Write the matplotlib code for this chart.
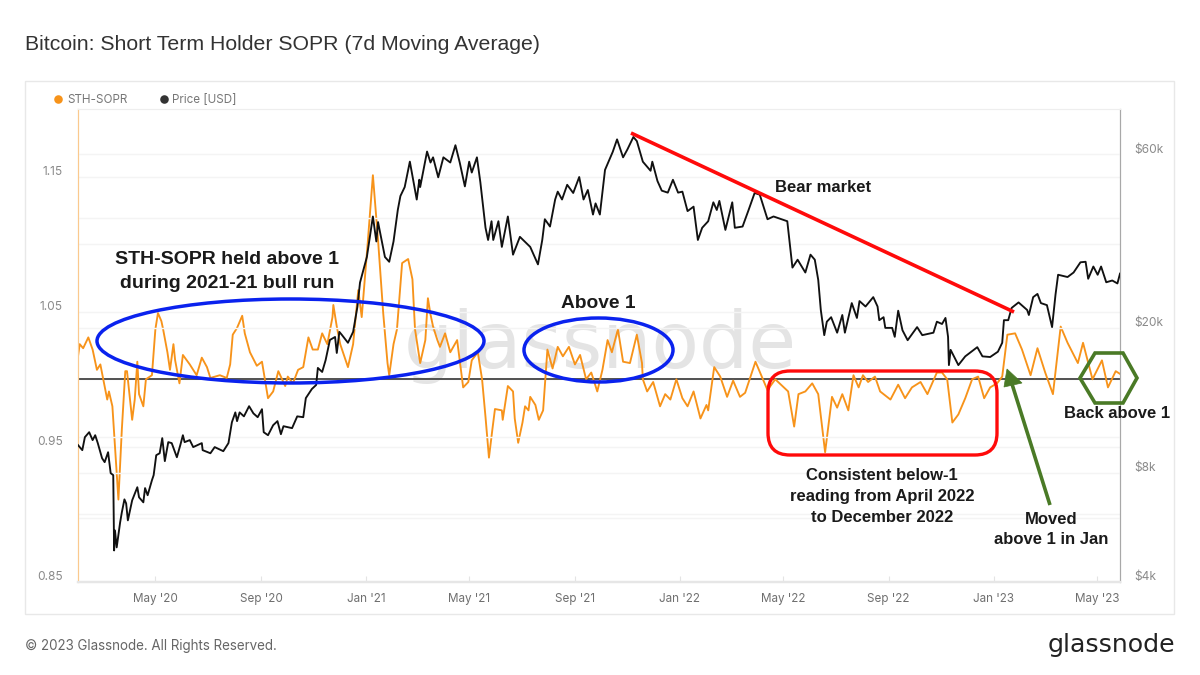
import matplotlib
matplotlib.use("Agg")
import matplotlib.pyplot as plt
import matplotlib.dates as mdates
from matplotlib.patches import Ellipse, FancyBboxPatch, Polygon, Rectangle
from matplotlib.transforms import ScaledTranslation
import pandas as pd

# values, days counted from 2020-02-01
START = "2020-02-01"

sopr_days = [0, 2, 6, 12, 17, 22, 26, 34, 36, 40, 44, 47, 51, 55, 57, 63, 66, 69, 71, 76, 79, 86, 90, 93, 97, 99,
             104, 107, 111, 113, 118, 122, 130, 138, 144, 150, 154, 165, 173, 177, 180, 185, 191, 194, 200, 208,
             214, 221, 227, 233, 241, 244, 250, 256, 262, 268, 273, 279, 284, 290, 296, 297, 301, 305, 314, 320,
             326, 330, 337, 343, 349, 355, 360, 362, 367, 371, 377, 384, 389, 392, 398, 404, 407, 410, 413, 418,
             421, 427, 433, 441, 444, 448, 454, 458, 465, 470, 474, 478, 482, 485, 493, 494, 500, 506, 508, 512,
             517, 520, 524, 526, 532, 536, 541, 546, 552, 558, 564, 571, 578, 584, 591, 597, 604, 610, 616, 621,
             628, 634, 642, 650, 656, 657, 662, 669, 677, 683, 689, 696, 703, 709, 716, 724, 731, 733, 740, 747,
             755, 762, 770, 776, 788, 802, 811, 826, 833, 838, 846, 854, 861, 869, 877, 883, 889, 896, 902, 908,
             913, 919, 927, 933, 945, 954, 962, 970, 980, 988, 999, 1005, 1011, 1017, 1024, 1032, 1040, 1047, 1054,
             1061, 1069, 1075, 1081, 1090, 1098, 1108, 1116, 1125, 1134, 1143, 1151, 1163, 1169, 1180, 1191, 1198,
             1207, 1212]
sopr_values = [1.017, 1.026, 1.023, 1.031, 1.022, 1.007, 1.011, 0.985, 0.991, 0.980, 0.940, 0.911, 0.963, 1.006,
               1.006, 0.970, 0.985, 1.013, 0.989, 0.980, 1.000, 1.003, 1.037, 1.049, 1.043, 1.037, 1.020, 1.007,
               1.026, 1.014, 0.997, 1.018, 1.011, 1.003, 1.016, 1.009, 1.001, 1.003, 1.001, 1.011, 1.033, 1.038,
               1.047, 1.034, 1.020, 1.010, 1.013, 0.986, 0.991, 1.006, 0.995, 1.002, 0.997, 1.007, 1.009, 1.031,
               1.022, 1.022, 1.034, 1.026, 1.046, 1.055, 1.039, 1.026, 1.009, 1.026, 1.066, 1.046, 1.101, 1.151,
               1.103, 1.049, 1.012, 1.003, 1.026, 1.037, 1.086, 1.089, 1.074, 1.037, 1.012, 1.029, 1.060, 1.048,
               1.039, 1.029, 1.024, 1.034, 1.020, 1.029, 1.014, 0.994, 0.998, 1.014, 1.020, 1.000, 0.972, 0.942,
               0.963, 0.978, 0.977, 0.970, 0.995, 0.991, 0.971, 0.953, 0.968, 0.980, 0.977, 0.987, 0.981, 0.970,
               0.977, 1.022, 1.008, 1.024, 1.017, 1.024, 1.011, 1.018, 1.000, 1.005, 0.991, 1.007, 1.029, 1.020,
               1.037, 1.013, 1.012, 1.033, 1.012, 1.000, 0.991, 0.998, 0.980, 0.989, 0.985, 1.000, 0.986, 0.980,
               0.991, 0.971, 0.981, 0.977, 1.009, 1.002, 0.987, 0.999, 0.987, 0.990, 1.013, 0.992, 1.000, 0.991,
               0.965, 0.989, 0.991, 0.997, 0.989, 0.946, 0.987, 0.979, 0.989, 0.977, 1.003, 0.994, 1.003, 0.998,
               1.002, 0.991, 0.985, 0.996, 0.986, 0.994, 0.998, 0.989, 1.005, 1.005, 1.000, 0.968, 0.974, 0.986,
               1.000, 1.002, 0.986, 0.994, 0.997, 1.002, 1.033, 1.034, 1.022, 1.003, 1.023, 1.005, 0.989, 1.039,
               1.027, 1.012, 1.027, 1.000, 1.014, 0.994, 1.006, 1.004]

price_days = [0, 5, 8, 13, 17, 20, 23, 28, 31, 35, 38, 41, 42, 43, 45, 49, 51, 54, 56, 58, 63, 69, 71, 76, 78, 81,
              86, 88, 91, 95, 98, 101, 105, 109, 115, 119, 122, 124, 130, 134, 144, 145, 154, 159, 169, 175, 179,
              183, 185, 188, 193, 199, 204, 209, 214, 216, 221, 227, 232, 236, 239, 249, 255, 262, 265, 272, 277,
              279, 284, 288, 293, 299, 301, 304, 307, 314, 320, 325, 328, 336, 343, 347, 349, 357, 362, 367, 372,
              375, 380, 386, 394, 397, 398, 406, 410, 413, 419, 425, 433, 439, 444, 450, 455, 458, 464, 468, 474,
              477, 481, 483, 489, 493, 500, 506, 514, 526, 535, 540, 543, 549, 555, 558, 563, 569, 576, 583, 588,
              593, 599, 602, 607, 613, 622, 627, 634, 639, 646, 650, 657, 666, 668, 674, 679, 686, 692, 698, 703,
              709, 716, 721, 726, 733, 739, 743, 746, 753, 761, 764, 773, 780, 787, 793, 802, 809, 825, 831, 837,
              846, 852, 857, 861, 864, 868, 871, 876, 883, 889, 892, 900, 906, 909, 916, 925, 930, 932, 937, 939,
              947, 950, 954, 959, 965, 976, 982, 995, 999, 1005, 1009, 1012, 1013, 1015, 1024, 1032, 1046, 1052,
              1061, 1070, 1075, 1077, 1082, 1086, 1094, 1104, 1106, 1111, 1116, 1120, 1127, 1133, 1137, 1140, 1151,
              1158, 1166, 1172, 1175, 1181, 1186, 1190, 1196, 1203, 1209, 1212]
price_values = [9520, 9220, 10010, 10330, 9825, 10135, 9640, 8760, 8545, 9100, 7970, 7870, 4885, 5545, 4980, 5835,
                6220, 6750, 6580, 5910, 6710, 7290, 6840, 6625, 7250, 6930, 7620, 7870, 8930, 9040, 9950, 8600,
                9700, 9640, 8815, 9520, 10135, 9700, 9825, 9400, 9640, 9220, 9040, 9400, 9160, 9640, 11000, 11710,
                11080, 11710, 11420, 12180, 11640, 11360, 11950, 10330, 10135, 10800, 11080, 10200, 10730, 10600,
                11420, 11360, 12820, 13580, 13930, 15520, 15130, 16300, 18530, 18880, 17060, 19500, 19120, 18200,
                19500, 22860, 26640, 31340, 40500, 34570, 39090, 31340, 30400, 34570, 42250, 46100, 48800, 57320,
                45080, 51120, 48800, 61100, 57000, 58900, 51900, 58900, 57000, 63600, 57000, 49000, 57300, 53500,
                58900, 50300, 37700, 34900, 39300, 34900, 39300, 33400, 40500, 31800, 35600, 33400, 29900, 34900,
                39800, 38000, 45100, 47400, 45100, 49500, 47000, 52000, 45100, 47900, 41000, 44000, 41000, 54400,
                61000, 66000, 58900, 61900, 67000, 65300, 57300, 54100, 57300, 50700, 47700, 47100, 51100, 47100,
                47400, 41900, 43100, 34900, 37700, 39300, 44300, 42200, 44700, 37200, 44300, 37700, 38000, 42200,
                47000, 46500, 39800, 40500, 39300, 29300, 30800, 28400, 31800, 30800, 27100, 22400, 19100, 20800,
                21400, 19400, 21700, 19400, 23400, 21300, 23700, 22900, 24300, 22900, 21000, 21400, 20000, 20000,
                18900, 22300, 19700, 18500, 20100, 19100, 19400, 20800, 20500, 21300, 18900, 15800, 17400, 15800,
                16700, 17700, 16700, 16630, 17200, 18200, 21000, 21000, 22700, 23500, 22400, 21700, 24300, 24800,
                23400, 23100, 20100, 24700, 28000, 27600, 28400, 30300, 30400, 27300, 29500, 28000, 29500, 26700,
                27000, 26500, 28200]

x_tick_dates = ["2020-05-01", "2020-09-01", "2021-01-01", "2021-05-01", "2021-09-01", "2022-01-01", "2022-05-01",
                "2022-09-01", "2023-01-01", "2023-05-01"]
sopr_grid = [0.85, 0.90, 0.95, 1.00, 1.05, 1.10, 1.15]
sopr_labels = ["0.85", "", "0.95", "", "1.05", "", "1.15"]
price_grid = [4000, 6000, 8000, 10000, 20000, 40000, 60000]
price_labels = ["$4k", "", "$8k", "", "$20k", "", "$60k"]

ORANGE = "#f7931a"
BLACK = "#111111"
GREEN = "#4a7a26"
RED = "#ff0a0a"
BLUE = "#0a22ee"


def to_dates(days):
    return pd.Timestamp(START) + pd.to_timedelta(days, unit="D")


fig = plt.figure(figsize=(12, 6.75), dpi=100, facecolor="white")
plt.rcParams["font.family"] = ["Inter", "DejaVu Sans"]

ax = fig.add_axes([78 / 1200, 93 / 675, 1042 / 1200, 473 / 675])
ax2 = ax.twinx()

ax.set_xlim(to_dates(0), to_dates(1212))
ax.set_ylim(0.85, 1.2)
ax2.set_yscale("log")
ax2.set_ylim(4000, 80000)

ax.set_yticks(sopr_grid)
ax.set_yticklabels(sopr_labels, va="bottom")
ax2.set_yticks(price_grid)
ax2.set_yticklabels(price_labels, va="bottom")
ax2.minorticks_off()
ax.tick_params(axis="y", length=0, pad=11, labelsize=8.6, labelcolor="#8a8a8a")
ax2.tick_params(axis="y", length=0, pad=10, labelsize=8.6, labelcolor="#8a8a8a")
ax.grid(True, axis="y", color="#f4f4f4", lw=1)
ax2.grid(True, axis="y", color="#f4f4f4", lw=1)
ax.set_axisbelow(True)

# labels sit just over their gridlines, nudge them down a touch
nudge = ScaledTranslation(0, -1 / 72, fig.dpi_scale_trans)
for lab in ax.get_yticklabels() + ax2.get_yticklabels():
    lab.set_transform(lab.get_transform() + nudge)

ax.set_xticks(pd.to_datetime(x_tick_dates))
ax.xaxis.set_major_formatter(mdates.DateFormatter("%b '%y"))
ax.tick_params(axis="x", length=4, direction="in", color="#e4e4e4", pad=14.5, labelsize=8.4, labelcolor="#6f6f6f")
for lab in ax.get_xticklabels():
    lab.set_va("baseline")

for a in (ax, ax2):
    a.spines["left"].set_color("#fbc98e")
    a.spines["right"].set_color("#a8a8a8")
    a.spines["top"].set_color("#eeeeee")
    a.spines["bottom"].set_color("#e6e6e6")
    a.spines["bottom"].set_linewidth(1.6)

# faint brand mark behind the lines
ax.text(0.501, 0.4524, "glassnode", transform=ax.transAxes, ha="center", va="baseline", family="DejaVu Sans",
        fontsize=56, color="#e4e4e4", zorder=0)

ax.axhline(1.0, color="#444444", lw=1.3, zorder=2)
ax.plot(to_dates(sopr_days), sopr_values, color=ORANGE, lw=1.35, zorder=3)
ax2.plot(to_dates(price_days), price_values, color=BLACK, lw=1.35, zorder=3)

# overlay in picture pixels for the hand-drawn notes and page furniture
over = fig.add_axes([0, 0, 1, 1], facecolor="none")
over.set_xlim(0, 1200)
over.set_ylim(675, 0)
over.axis("off")

over.add_patch(Rectangle((25, 81), 1149, 533, fill=False, ec="#e8e8e8", lw=1))
over.add_patch(Ellipse((290.5, 341), 387, 84, fill=False, ec=BLUE, lw=2.5))
over.add_patch(Ellipse((598.5, 350), 149, 64, fill=False, ec=BLUE, lw=2.5))
over.plot([631, 1014], [133, 312], color=RED, lw=2.6, solid_capstyle="butt")
over.add_patch(FancyBboxPatch((768 + 22, 371 + 22), 229 - 44, 84 - 44, boxstyle="round,pad=22,rounding_size=22",
                              fill=False, ec=RED, lw=2.4))
over.add_patch(Polygon([(1080, 378), (1095, 353), (1123, 353), (1137, 378), (1123, 403), (1095, 403)],
                       closed=True, fill=False, ec=GREEN, lw=2.6))
over.plot([1050, 1012], [505, 384], color=GREEN, lw=2.6, solid_capstyle="butt")
over.add_patch(Polygon([(1007, 369), (1022, 383), (1004, 387)], closed=True, fc=GREEN, ec=GREEN, lw=0.5))

note = dict(family="Liberation Sans", fontweight="bold", color="#1a1a1a", ha="center", va="center")
over.text(227, 260, "STH-SOPR held above 1", fontsize=14, **note)
over.text(227, 284, "during 2021-21 bull run", fontsize=14, **note)
over.text(598, 303, "Above 1", fontsize=13.8, **note)
over.text(823, 187, "Bear market", fontsize=12, **note)
over.text(882, 476, "Consistent below-1", fontsize=12, **note)
over.text(882, 496, "reading from April 2022", fontsize=12, **note)
over.text(882, 517, "to December 2022", fontsize=12, **note)
over.text(1051, 519, "Moved", fontsize=12, **note)
over.text(1051, 540, "above 1 in Jan", fontsize=12, **note)
over.text(1117, 413, "Back above 1", fontsize=12, **note)

# legend
over.scatter([58], [99], s=38, color=ORANGE, lw=0)
over.text(67, 100, "STH-SOPR", fontsize=8.4, color="#777777", va="center")
over.scatter([164], [99], s=38, color="#333333", lw=0)
over.text(172, 100, "Price [USD]", fontsize=8.4, color="#777777", va="center")

# header and footer
over.text(25, 44, "Bitcoin: Short Term Holder SOPR (7d Moving Average)", family="Liberation Sans", fontsize=15.35,
          color="#333333", va="center")
over.text(25, 646, "© 2023 Glassnode. All Rights Reserved.", fontsize=9.65, color="#666666", va="center")
over.text(1175, 645, "glassnode", family="DejaVu Sans", fontsize=18.2, color="#222222", ha="right", va="center")

fig.savefig("out.png", dpi=100)
